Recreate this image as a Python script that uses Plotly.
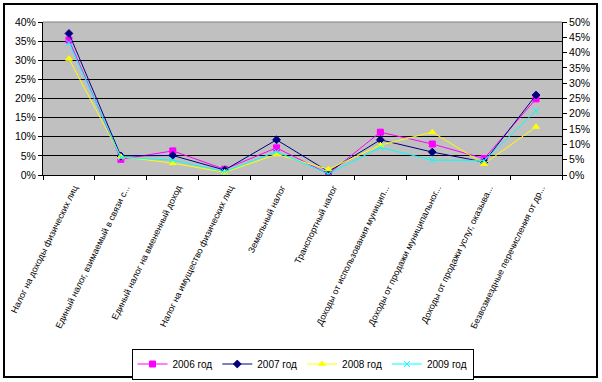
import plotly.graph_objects as go

categories = [
    "Налог на доходы физических лиц",
    "Единый налог, взимаемый в связи с...",
    "Единый налог на вмененный доход",
    "Налог на имущество физических лиц",
    "Земельный налог",
    "Транспортный налог",
    "Доходы от использования муницип...",
    "Доходы от продажи муниципальног...",
    "Доходы от продажи услуг, оказыва...",
    "Безвозмездные перечисления от др...",
]

s2006 = [0.353, 0.041, 0.063, 0.015, 0.071, 0.003, 0.112, 0.081, 0.043, 0.199]
s2007 = [0.370, 0.050, 0.051, 0.013, 0.092, 0.009, 0.092, 0.060, 0.034, 0.209]
s2008 = [0.304, 0.048, 0.031, 0.007, 0.054, 0.015, 0.078, 0.112, 0.029, 0.126]
s2009 = [0.346, 0.046, 0.039, 0.009, 0.061, 0.003, 0.072, 0.039, 0.038, 0.168]

series_names = ["2006 год", "2007 год", "2008 год", "2009 год"]
colors = ["#FF00FF", "#000080", "#FFFF00", "#00FFFF"]
symbols = ["square", "diamond", "triangle-up", "x-thin"]

FONT = "Liberation Sans, Arial, sans-serif"

fig = go.Figure()
for name, vals, col, sym in zip(series_names, [s2006, s2007, s2008, s2009], colors, symbols):
    fig.add_trace(go.Scatter(
        x=categories, y=vals, name=name, mode="lines+markers",
        line=dict(color=col, width=1),
        marker=dict(symbol=sym, size=6, color=col,
                    line=dict(color=col, width=1)),
    ))

# dummy trace so the secondary axis is drawn
fig.add_trace(go.Scatter(x=[categories[0]], y=[0], yaxis="y2", mode="markers",
                         marker=dict(opacity=0), showlegend=False, hoverinfo="skip"))

L, R, T, B = 43, 562, 22, 175
W, H = 602, 382
pw, ph = R - L, B - T

def px_x(x):
    return (x - L) / pw

def px_y(y):
    return (B - y) / ph

fig.update_layout(
    width=W, height=H,
    margin=dict(l=L, r=W - R, t=T, b=H - B, autoexpand=False),
    paper_bgcolor="white",
    plot_bgcolor="#C0C0C0",
    font=dict(family=FONT, size=10, color="black"),
    showlegend=True,
    legend=dict(
        orientation="h", x=0.5, xanchor="center",
        y=px_y(364), yanchor="middle",
        bordercolor="black", borderwidth=1,
        font=dict(family=FONT, size=10, color="black"),
        itemwidth=30, tracegroupgap=0,
    ),
    xaxis=dict(
        type="category", tickangle=-64,
        showgrid=False, showline=True, linecolor="black", linewidth=1,
        ticks="outside", ticklen=4, tickcolor="black", tickson="boundaries",
        tickfont=dict(family=FONT, size=9),
        ticklabelstandoff=3, ticklabelshift=5,
        range=[-0.5, 9.5], zeroline=False,
    ),
    yaxis=dict(
        range=[0, 0.4], dtick=0.05, tickformat=".0%",
        showgrid=True, gridcolor="black", gridwidth=1,
        showline=True, linecolor="black", linewidth=1,
        ticks="outside", ticklen=4, tickcolor="black",
        tickfont=dict(family=FONT, size=10.5),
        zeroline=False,
    ),
    yaxis2=dict(
        range=[0, 0.5], dtick=0.05, tickformat=".0%",
        overlaying="y", side="right",
        showgrid=False, showline=True, linecolor="black", linewidth=1,
        ticks="outside", ticklen=4, tickcolor="black",
        tickfont=dict(family=FONT, size=10.5),
        zeroline=False,
    ),
    shapes=[
        dict(type="line", xref="paper", yref="paper", x0=0, x1=1, y0=1, y1=1,
             line=dict(color="#808080", width=1)),
        dict(type="rect", xref="paper", yref="paper",
             x0=px_x(4), x1=px_x(597), y0=px_y(377), y1=px_y(4),
             line=dict(color="black", width=2), layer="above"),
    ],
)

fig.write_html("out.html",
               config={"displayModeBar": False},
               post_script="document.body.style.margin='0px';document.body.style.padding='0px';")
